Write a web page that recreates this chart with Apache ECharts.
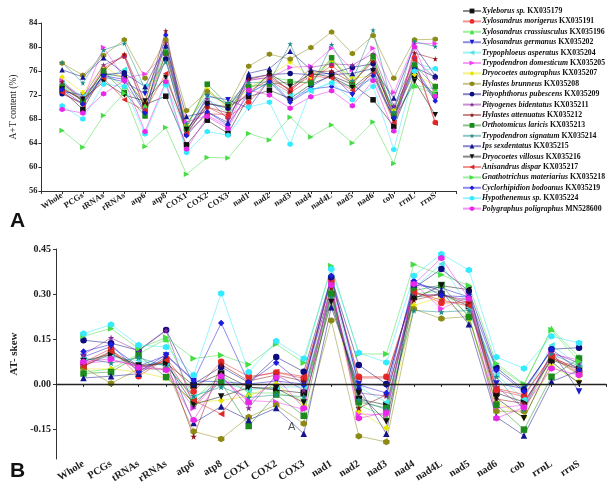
<!DOCTYPE html>
<html><head><meta charset="utf-8">
<script src="https://cdn.jsdelivr.net/npm/echarts@6/dist/echarts.min.js"></script>
<style>html,body{margin:0;padding:0;background:#fff}#c{width:612px;height:489px}</style>
</head><body><div id="c"></div>
<script>
const categories = ['Whole','PCGs','tRNAs','rRNAs','atp6','atp8','COX1','COX2','COX3','nad1','nad2','nad3','nad4','nad4L','nad5','nad6','cob','rrnL','rrnS'];
const species = ['Xyleborus sp.','Xylosandrus morigerus','Xylosandrus crassiusculus','Xylosandrus germanus','Trypophloeus asperatus','Trypodendron domesticum','Dryocoetes autographus','Hylastes brunneus','Pityophthorus pubescens','Pityogenes bidentatus','Hylastes attenuatus','Orthotomicus laricis','Trypodendron signatum','Ips sexdentatus','Dryocoetes villosus','Anisandrus dispar','Gnathotrichus materiarius','Cyclorhipidion bodoanus','Hypothenemus sp.','Polygraphus poligraphus'];
const accessions = ['KX035179','KX035191','KX035196','KX035202','KX035204','KX035205','KX035207','KX035208','KX035209','KX035211','KX035212','KX035213','KX035214','KX035215','KX035216','KX035217','KX035218','KX035219','KX035224','MN528600'];
const yTicksA = [56,60,64,68,72,76,80,84];
const yTicksB = [-0.15,0.00,0.15,0.30,0.45];

// A+T content (%)
const at_Xyleborus = [72.8,69.6,75.6,75.0,70.4,71.8,63.7,67.8,65.6,71.7,72.8,71.4,73.8,75.2,73.8,71.2,66.8,75.2,72.0];
const at_Xmorigerus = [73.2,71.0,76.5,78.5,69.9,78.9,66.2,70.0,68.3,70.8,74.4,72.4,74.6,76.9,74.2,77.8,68.6,78.2,67.4];
const at_Xcrassiusculus = [73.6,71.4,75.8,73.4,70.2,79.5,66.8,73.0,70.0,73.0,75.0,74.4,74.0,77.8,74.6,78.2,69.0,73.6,73.0];
const at_Xgermanus = [72.6,72.0,75.0,74.2,72.2,80.0,65.8,71.8,71.2,69.8,74.6,71.0,73.4,75.4,72.0,76.0,69.8,76.8,71.2];
const at_Tasperatus = [74.0,71.8,74.6,76.3,73.6,73.7,66.0,71.4,69.0,72.4,74.0,72.0,72.6,74.2,73.4,74.6,68.2,77.4,76.3];
const at_Tdomesticum = [74.4,71.2,79.9,74.8,75.5,79.0,67.5,68.6,66.8,74.6,74.8,76.6,76.8,79.8,76.2,79.8,72.4,80.6,80.6];
const at_Dautographus = [75.0,72.4,76.8,74.6,71.0,80.5,67.0,73.0,69.6,73.2,75.2,77.5,75.0,77.8,74.8,75.2,69.4,75.4,73.6];
const at_Hbrunneus = [77.3,75.3,78.6,81.2,74.8,81.2,69.4,72.6,70.2,76.8,78.8,78.0,79.9,82.5,78.9,81.9,74.8,81.2,81.3];
const at_Ppubescens = [72.2,70.6,75.4,75.7,69.2,78.0,65.4,70.6,69.8,74.8,75.4,75.6,75.4,75.6,76.6,77.2,68.4,76.6,75.0];
const at_Pbidentatus = [73.8,71.6,77.0,78.4,69.6,80.7,66.0,71.4,68.0,74.4,75.0,72.8,76.6,77.2,77.0,78.9,70.2,78.0,74.8];
const at_Hattenuatus = [74.2,70.8,76.1,78.8,70.8,82.7,65.8,70.0,69.0,74.6,75.4,72.6,75.8,76.0,74.0,77.6,68.0,79.0,78.0];
const at_Olaricis = [73.4,71.0,76.0,72.4,68.5,79.0,66.4,73.8,70.4,73.4,73.8,74.2,74.0,78.2,73.6,78.4,68.8,77.0,73.4];
const at_Tsignatum = [77.4,74.0,79.5,80.6,73.0,77.5,67.2,72.0,70.6,74.0,74.2,80.5,73.2,80.4,74.4,82.8,69.2,80.9,80.1];
const at_Isexdentatus = [76.2,75.0,78.2,75.6,73.4,80.2,68.4,69.2,67.4,75.6,76.4,79.3,76.2,75.4,75.6,76.4,71.5,80.2,75.2];
const at_Dvillosus = [73.0,71.3,74.2,72.0,71.0,74.9,66.2,70.6,70.0,72.0,75.6,73.4,75.6,75.0,73.2,76.0,67.8,74.3,68.7];
const at_Adispar = [72.4,70.4,74.8,71.2,69.4,75.6,65.6,68.8,68.8,72.6,74.6,73.0,75.2,74.8,72.8,75.6,67.4,77.8,67.3];
const at_Gmateriarius = [66.1,63.3,68.6,72.3,63.4,66.6,58.8,61.6,61.5,65.6,64.5,68.3,65.0,67.0,64.0,67.5,60.6,73.4,72.2];
const at_Cbodoanus = [72.9,70.5,75.2,74.6,69.0,82.0,65.2,69.2,67.0,72.2,74.2,70.8,73.0,73.4,72.2,75.2,68.2,76.2,71.0];
const at_Hypothenemus = [70.2,68.0,73.8,73.4,65.5,73.7,62.4,65.9,65.3,70.0,70.8,63.8,72.8,74.0,71.2,73.4,62.9,76.0,76.4];
const at_Ppoligraphus = [69.6,69.0,72.2,74.4,65.9,74.2,63.0,68.4,66.4,72.8,72.0,69.8,71.7,72.7,70.2,74.4,66.0,80.0,71.8];

// AT-skew
const sk_Xyleborus = [0.060,0.100,0.055,0.070,-0.005,0.035,-0.010,-0.020,-0.030,0.300,-0.050,-0.070,0.290,0.300,0.260,-0.030,-0.060,0.080,0.050];
const sk_Xmorigerus = [0.072,0.118,0.026,0.085,-0.025,0.074,0.025,0.038,0.019,0.345,0.024,0.024,0.310,0.270,0.273,-0.020,-0.042,0.095,0.040];
const sk_Xcrassiusculus = [0.040,0.050,0.100,0.150,-0.050,0.030,-0.030,-0.030,-0.050,0.320,-0.070,-0.110,0.300,0.310,0.230,0.060,-0.003,0.184,0.090];
const sk_Xgermanus = [0.090,0.125,0.060,0.095,0.010,0.008,0.000,0.010,0.000,0.350,0.000,-0.005,0.330,0.320,0.290,0.002,-0.015,0.110,-0.025];
const sk_Tasperatus = [0.080,0.090,0.078,0.060,-0.044,0.005,-0.020,-0.010,-0.010,0.330,-0.011,-0.060,0.320,0.400,0.255,0.030,-0.050,0.129,0.063];
const sk_Tdomesticum = [0.068,0.078,0.062,0.048,-0.080,0.020,-0.055,-0.060,-0.085,0.335,-0.100,-0.103,0.335,0.251,0.292,-0.080,-0.070,0.100,0.080];
const sk_Dautographus = [0.050,0.050,0.040,0.020,-0.060,-0.055,-0.040,0.000,-0.070,0.290,-0.090,-0.147,0.262,0.290,0.215,-0.060,-0.110,0.060,0.008];
const sk_Hbrunneus = [0.055,0.002,0.050,0.050,-0.158,-0.183,-0.110,-0.070,-0.132,0.212,-0.174,-0.193,0.250,0.218,0.225,-0.091,-0.091,0.090,0.030];
const sk_Ppubescens = [0.146,0.136,0.112,0.180,0.000,0.057,0.005,0.090,0.041,0.355,0.063,0.000,0.320,0.383,0.310,0.055,-0.020,0.116,0.121];
const sk_Pbidentatus = [0.098,0.154,0.110,0.178,-0.075,0.030,-0.080,0.030,-0.020,0.306,-0.030,-0.040,0.300,0.295,0.280,-0.010,-0.080,0.105,0.070];
const sk_Hattenuatus = [0.064,0.110,0.058,0.075,-0.175,0.065,0.010,0.030,0.010,0.320,-0.080,-0.036,0.280,0.300,0.270,-0.050,-0.065,0.085,0.055];
const sk_Olaricis = [0.035,0.040,0.095,0.023,-0.060,0.005,-0.140,-0.035,-0.106,0.300,-0.060,-0.080,0.311,0.330,0.223,-0.069,-0.152,0.024,0.085];
const sk_Tsignatum = [0.086,0.070,0.088,0.060,-0.040,-0.010,-0.045,-0.036,-0.042,0.289,-0.053,-0.085,0.245,0.240,0.245,0.024,-0.085,0.100,0.060];
const sk_Isexdentatus = [0.020,0.026,0.034,0.090,-0.130,-0.075,-0.120,-0.080,-0.166,0.256,-0.010,-0.166,0.340,0.310,0.199,-0.110,-0.172,0.008,0.045];
const sk_Dvillosus = [0.076,0.100,0.062,0.068,-0.068,-0.042,-0.012,-0.014,-0.062,0.273,-0.031,-0.125,0.284,0.328,0.314,-0.047,-0.114,0.074,0.002];
const sk_Adispar = [0.058,0.108,0.045,0.080,-0.055,-0.100,0.020,0.040,0.025,0.340,0.020,0.020,0.305,0.280,0.260,-0.015,-0.035,0.090,0.035];
const sk_Gmateriarius = [0.160,0.185,0.118,0.155,0.085,0.096,0.065,0.133,0.071,0.393,0.100,0.100,0.398,0.364,0.328,0.068,0.000,0.180,0.075];
const sk_Cbodoanus = [0.108,0.132,0.040,0.098,0.013,0.203,0.005,0.071,-0.003,0.361,-0.003,-0.030,0.344,0.295,0.290,0.046,-0.025,0.116,0.046];
const sk_Hypothenemus = [0.168,0.198,0.130,0.123,0.030,0.302,0.040,0.143,0.085,0.383,0.104,0.072,0.361,0.433,0.380,0.090,0.052,0.159,0.137];
const sk_Ppoligraphus = [0.074,0.084,0.055,0.047,-0.120,0.026,-0.062,0.022,-0.080,0.330,-0.114,-0.095,0.333,0.420,0.285,-0.114,-0.078,0.052,0.030];

const atSeries = [at_Xyleborus,at_Xmorigerus,at_Xcrassiusculus,at_Xgermanus,at_Tasperatus,at_Tdomesticum,at_Dautographus,at_Hbrunneus,at_Ppubescens,at_Pbidentatus,at_Hattenuatus,at_Olaricis,at_Tsignatum,at_Isexdentatus,at_Dvillosus,at_Adispar,at_Gmateriarius,at_Cbodoanus,at_Hypothenemus,at_Ppoligraphus];
const skSeries = [sk_Xyleborus,sk_Xmorigerus,sk_Xcrassiusculus,sk_Xgermanus,sk_Tasperatus,sk_Tdomesticum,sk_Dautographus,sk_Hbrunneus,sk_Ppubescens,sk_Pbidentatus,sk_Hattenuatus,sk_Olaricis,sk_Tsignatum,sk_Isexdentatus,sk_Dvillosus,sk_Adispar,sk_Gmateriarius,sk_Cbodoanus,sk_Hypothenemus,sk_Ppoligraphus];

// styles
const SQ='rect', CI='circle', TU='triangle', DI='diamond';
const TD='path://M0,0L10,0L5,9Z', TL='path://M9,0L9,10L0,5Z', TR='path://M0,0L0,10L9,5Z';
const ST='path://M5,0L6.2,3.6L10,3.6L6.9,5.8L8.1,9.5L5,7.2L1.9,9.5L3.1,5.8L0,3.6L3.8,3.6Z';
const HX='path://M5,0L9.33,2.5L9.33,7.5L5,10L0.67,7.5L0.67,2.5Z';
const colors = ['#111111','#e82a2a','#3fe23f','#1c1ccc','#45e6e6','#f23cf2','#e6e600','#8c8a14','#0c0c80','#8a2a9a','#8b1414','#1c8a1c','#1c8a8a','#14148f','#111111','#dd2626','#44dd44','#1c1cdd','#33eaff','#e828e8'];
const symbols = [SQ,CI,TU,TD,TL,TR,DI,HX,CI,ST,ST,SQ,ST,TU,TD,TL,TR,DI,HX,HX];

const names = species.map((s,i)=>s+' '+accessions[i]);
const axisCats = [' '].concat(categories).concat(['  ']);
const serif = 'Liberation Serif';

const series = [];
names.forEach((n,k)=>{
  const base = {name:n,type:'line',symbol:symbols[k],color:colors[k],
    lineStyle:{width:1,opacity:0.5},itemStyle:{color:colors[k]},emphasis:{disabled:true},animation:false};
  series.push(Object.assign({},base,{xAxisIndex:0,yAxisIndex:0,symbolSize:5.5,
    data:atSeries[k].map((v,i)=>[i+1,v])}));
});
names.forEach((n,k)=>{
  const base = {name:n,type:'line',symbol:symbols[k],color:colors[k],
    lineStyle:{width:1,opacity:0.5},itemStyle:{color:colors[k]},emphasis:{disabled:true},animation:false};
  const s = Object.assign({},base,{xAxisIndex:1,yAxisIndex:1,symbolSize:6.5,
    data:skSeries[k].map((v,i)=>[i+1,v])});
  if(k===0){ s.markLine={silent:true,symbol:'none',label:{show:false},animation:false,
    lineStyle:{color:'#222',width:1.4,type:'solid'},data:[{yAxis:0}]}; }
  series.push(s);
});

const xAxisCommon = (fs)=>({type:'category',data:axisCats,boundaryGap:false,
  axisLine:{lineStyle:{color:'#333',width:1}},
  axisTick:{show:true,interval:0,length:3,inside:false,lineStyle:{color:'#333'}},
  axisLabel:{interval:0,rotate:32,margin:4,fontFamily:serif,fontWeight:'bold',fontSize:fs,color:'#222'},
  splitLine:{show:false}});

const chart = echarts.init(document.getElementById('c'),null,{renderer:'canvas'});
chart.setOption({
  animation:false,
  backgroundColor:'#fff',
  grid:[{left:31,top:23,width:425,height:168},{left:56,top:249,width:560,height:210}],
  xAxis:[Object.assign(xAxisCommon(8.5),{gridIndex:0}),Object.assign(xAxisCommon(10.5),{gridIndex:1})],
  yAxis:[
    {gridIndex:0,type:'value',min:56,max:84,interval:4,
     name:'A+T content (%)',nameLocation:'middle',nameGap:20,nameRotate:90,
     nameTextStyle:{fontFamily:serif,fontSize:9.5,color:'#222'},
     axisLine:{show:true,lineStyle:{color:'#333'}},axisTick:{show:true,length:3,lineStyle:{color:'#333'}},
     axisLabel:{fontFamily:serif,fontWeight:'bold',fontSize:8.5,color:'#222',margin:4},splitLine:{show:false}},
    {gridIndex:1,type:'value',min:-0.25,max:0.45,
     name:'AT- skew',nameLocation:'middle',nameGap:32,nameRotate:90,
     nameTextStyle:{fontFamily:serif,fontWeight:'bold',fontSize:11,color:'#222'},
     axisLine:{show:true,lineStyle:{color:'#333'}},
     axisTick:{show:true,length:3,customValues:yTicksB,lineStyle:{color:'#333'}},
     axisLabel:{customValues:yTicksB,fontFamily:serif,fontWeight:'bold',fontSize:10,color:'#222',margin:5,
       formatter:(v)=>Number(v).toFixed(2)},splitLine:{show:false}}
  ],
  legend:{orient:'vertical',left:457,top:1,itemWidth:18,itemHeight:6,itemGap:0.4,padding:[5,0,5,5],
    data:names,selectedMode:false,
    formatter:(n)=>{const i=names.indexOf(n);return '{i|'+species[i]+'} {b|'+accessions[i]+'}';},
    textStyle:{fontFamily:serif,fontSize:7.8,lineHeight:10,color:'#111',padding:[0,0,0,-4],
      rich:{i:{fontFamily:serif,fontStyle:'italic',fontWeight:'bold',fontSize:7.8,lineHeight:10,color:'#111'},
            b:{fontFamily:serif,fontWeight:'bold',fontSize:7.8,lineHeight:10,color:'#111'}}}},
  graphic:[
    {type:'text',left:10,top:211,style:{text:'A',font:'bold 21px "Liberation Sans"',fill:'#111'}},
    {type:'text',left:10,top:461,style:{text:'B',font:'bold 21px "Liberation Sans"',fill:'#111'}},
    {type:'text',left:288,top:421,style:{text:'A',font:'11px "Liberation Sans"',fill:'#555'}}
  ],
  series:series
});
</script></body></html>
